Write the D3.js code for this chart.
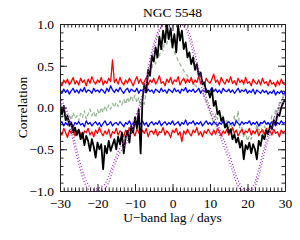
<!DOCTYPE html>
<html>
<head>
<meta charset="utf-8">
<script src="https://cdn.jsdelivr.net/npm/d3@7"></script>
<style>
  body { margin: 0; background: #fff; }
  svg text { font-family: "Liberation Serif", "Times New Roman", Times, "DejaVu Serif", serif; }
</style>
</head>
<body>
<div id="ccfPlot"></div>
<script>

// lag grid (days) for the sampled curves
var lags = d3.range(-30, 30.01, 0.5);
var lagsCoarse = d3.range(-30, 30.01, 1);

// upper / lower significance bands (red, blue)
var redUpper = [
  0.30, 0.26, 0.33, 0.29, 0.34, 0.27, 0.31, 0.36, 0.28, 0.32,
  0.27, 0.35, 0.30, 0.33, 0.26, 0.34, 0.29, 0.37, 0.31, 0.28,
  0.33, 0.30, 0.36, 0.27, 0.32, 0.29, 0.35, 0.31, 0.57, 0.30,
  0.34, 0.28, 0.36, 0.30, 0.27, 0.33, 0.29, 0.35, 0.31, 0.26,
  0.32, 0.37, 0.29, 0.34, 0.28, 0.31, 0.36, 0.27, 0.33, 0.30,
  0.35, 0.28, 0.32, 0.38, 0.29, 0.31, 0.26, 0.34, 0.30, 0.36,
  0.28, 0.33, 0.31, 0.37, 0.27, 0.32, 0.35, 0.29, 0.34, 0.30,
  0.36, 0.28, 0.33, 0.30, 0.38, 0.29, 0.32, 0.27, 0.35, 0.31,
  0.29, 0.34, 0.40, 0.30, 0.33, 0.27, 0.36, 0.31, 0.28, 0.34,
  0.30, 0.37, 0.29, 0.32, 0.27, 0.35, 0.30, 0.33, 0.28, 0.36,
  0.29, 0.31, 0.26, 0.34, 0.30, 0.28, 0.33, 0.27, 0.35, 0.29,
  0.31, 0.26, 0.33, 0.28, 0.30, 0.25, 0.32, 0.27, 0.34, 0.29,
  0.27
];
var blueUpper = [
  0.19, 0.17, 0.22, 0.18, 0.21, 0.16, 0.20, 0.23, 0.18, 0.21,
  0.17, 0.22, 0.19, 0.24, 0.18, 0.21, 0.20, 0.17, 0.23, 0.19,
  0.21, 0.18, 0.22, 0.20, 0.17, 0.23, 0.19, 0.26, 0.21, 0.18,
  0.22, 0.19, 0.24, 0.20, 0.17, 0.21, 0.23, 0.18, 0.22, 0.20,
  0.19, 0.23, 0.17, 0.21, 0.20, 0.24, 0.18, 0.22, 0.19, 0.21,
  0.17, 0.22, 0.20, 0.18, 0.23, 0.19, 0.21, 0.17, 0.22, 0.20,
  0.18, 0.23, 0.19, 0.21, 0.17, 0.22, 0.20, 0.24, 0.18, 0.21,
  0.19, 0.22, 0.18, 0.20, 0.23, 0.17, 0.21, 0.19, 0.22, 0.18,
  0.20, 0.24, 0.19, 0.22, 0.18, 0.21, 0.17, 0.23, 0.20, 0.19,
  0.22, 0.18, 0.21, 0.17, 0.20, 0.23, 0.18, 0.21, 0.19, 0.22,
  0.17, 0.20, 0.18, 0.22, 0.16, 0.21, 0.19, 0.17, 0.21, 0.18,
  0.20, 0.16, 0.19, 0.17, 0.21, 0.15, 0.19, 0.17, 0.20, 0.16,
  0.18
];
var blueLower = [
  -0.20, -0.17, -0.22, -0.18, -0.21, -0.16, -0.19, -0.23, -0.18, -0.20,
  -0.17, -0.21, -0.19, -0.23, -0.16, -0.20, -0.18, -0.22, -0.19, -0.17,
  -0.21, -0.18, -0.23, -0.19, -0.16, -0.21, -0.20, -0.17, -0.22, -0.19,
  -0.18, -0.21, -0.17, -0.20, -0.23, -0.18, -0.20, -0.16, -0.21, -0.19,
  -0.17, -0.22, -0.19, -0.20, -0.16, -0.21, -0.18, -0.23, -0.19, -0.17,
  -0.21, -0.18, -0.20, -0.16, -0.22, -0.19, -0.17, -0.21, -0.18, -0.20,
  -0.16, -0.21, -0.19, -0.17, -0.22, -0.18, -0.20, -0.15, -0.21, -0.18,
  -0.19, -0.16, -0.21, -0.18, -0.20, -0.17, -0.22, -0.19, -0.16, -0.20,
  -0.18, -0.21, -0.17, -0.19, -0.22, -0.18, -0.20, -0.16, -0.21, -0.19,
  -0.17, -0.20, -0.18, -0.22, -0.16, -0.19, -0.21, -0.17, -0.20, -0.18,
  -0.19, -0.16, -0.21, -0.18, -0.20, -0.17, -0.22, -0.18, -0.19, -0.16,
  -0.20, -0.18, -0.21, -0.17, -0.19, -0.22, -0.18, -0.20, -0.16, -0.19,
  -0.18
];
var redLower = [
  -0.28, -0.33, -0.25, -0.30, -0.36, -0.27, -0.31, -0.24, -0.34, -0.29,
  -0.26, -0.32, -0.37, -0.28, -0.30, -0.25, -0.33, -0.29, -0.35, -0.27,
  -0.31, -0.24, -0.30, -0.34, -0.28, -0.32, -0.26, -0.36, -0.29, -0.31,
  -0.25, -0.33, -0.28, -0.30, -0.35, -0.27, -0.32, -0.24, -0.31, -0.29,
  -0.34, -0.26, -0.30, -0.33, -0.27, -0.31, -0.25, -0.35, -0.29, -0.28,
  -0.32, -0.26, -0.34, -0.29, -0.30, -0.24, -0.33, -0.28, -0.31, -0.36,
  -0.27, -0.30, -0.25, -0.33, -0.29, -0.41, -0.28, -0.32, -0.26, -0.31,
  -0.34, -0.27, -0.30, -0.24, -0.33, -0.29, -0.35, -0.28, -0.31, -0.26,
  -0.30, -0.33, -0.27, -0.32, -0.25, -0.29, -0.34, -0.28, -0.31, -0.26,
  -0.33, -0.29, -0.24, -0.31, -0.27, -0.34, -0.30, -0.26, -0.32, -0.28,
  -0.30, -0.25, -0.33, -0.28, -0.31, -0.26, -0.34, -0.29, -0.27, -0.32,
  -0.25, -0.30, -0.28, -0.33, -0.26, -0.31, -0.29, -0.35, -0.27, -0.30,
  -0.28
];

// measured CCF (black)
var ccfMeasured = [
  0.05, -0.08, 0.02, -0.15, -0.10, -0.22, -0.18, -0.30, -0.24, -0.33,
  -0.27, -0.38, -0.30, -0.45, -0.34, -0.40, -0.52, -0.38, -0.47, -0.60,
  -0.42, -0.50, -0.44, -0.74, -0.46, -0.55, -0.40, -0.52, -0.45, -0.38,
  -0.50, -0.35, -0.44, -0.30, -0.55, -0.36, -0.28, -0.42, -0.22, -0.30,
  -0.12, -0.25, -0.02, -0.55, 0.10, 0.28, 0.18, 0.45, 0.38, 0.62,
  0.55, 0.72, 0.60, 0.85, 0.70, 0.92, 0.78, 1.00, 0.82, 0.95,
  0.72, 0.88, 0.66, 0.98, 0.80, 0.92, 0.70, 0.78, 0.60, 0.66,
  0.52, 0.60, 0.45, 0.52, 0.38, 0.42, 0.28, 0.30, 0.18, 0.20,
  0.12, 0.22, 0.02, 0.08, -0.08, -0.04, -0.16, -0.12, -0.24, -0.20,
  -0.30, -0.26, -0.38, -0.32, -0.42, -0.36, -0.48, -0.40, -0.62, -0.45,
  -0.50, -0.42, -0.55, -0.44, -0.50, -0.62, -0.40, -0.46, -0.33, -0.38,
  -0.28, -0.32, -0.22, -0.26, -0.15, -0.20, -0.08, -0.10, 0.00, 0.05,
  0.10
];

// green dashed curve
var ccfGreen = [
  -0.08, -0.14, -0.05, -0.12, -0.18, -0.09, -0.15, -0.06, -0.13, -0.10,
  -0.16, -0.07, -0.12, -0.04, -0.14, -0.08, -0.02, -0.10, -0.05, -0.12,
  -0.03, -0.08, 0.00, -0.06, 0.02, -0.04, 0.03, -0.02, 0.05, 0.00,
  0.06, 0.01, 0.08, 0.03, 0.10, 0.04, 0.12, 0.06, 0.14, 0.08,
  0.15, 0.06, 0.12, 0.02, 0.08, 0.04, 0.20, 0.35, 0.50, 0.46,
  0.58, 0.52, 0.66, 0.60, 0.74, 0.68, 0.82, 0.76, 0.90, 0.80,
  0.72, 0.66, 0.62, 0.56, 0.52, 0.48, 0.44, 0.40, 0.38, 0.34,
  0.32, 0.30, 0.27, 0.24, 0.22, 0.19, 0.18, 0.12, 0.08, 0.02,
  -0.04, -0.12, -0.20, -0.08, -0.14, -0.04, -0.16, -0.10, -0.22, -0.14,
  -0.24, -0.18, -0.28, -0.10, -0.20, -0.04, -0.30, -0.24, -0.36, -0.30,
  -0.40, -0.34, -0.38, -0.28, -0.32, -0.20, -0.30, -0.16, -0.36, -0.22,
  -0.28, -0.18, -0.22, -0.10, -0.14, -0.02, -0.08, 0.06, 0.02, 0.14,
  0.20
];

// purple dotted curves (1-day steps)
var acfPurpleA = [
  0.08, 0.00, -0.12, -0.30, -0.50, -0.68, -0.84, -0.95, -1.00, -1.00,
  -1.00, -1.00, -0.98, -0.90, -0.76, -0.64, -0.54, -0.47, -0.40, -0.30,
  -0.18, -0.06, 0.08, 0.30, 0.52, 0.70, 0.86, 0.96, 1.00, 1.00,
  1.00, 1.00, 1.00, 0.98, 0.90, 0.74, 0.55, 0.38, 0.20, 0.06,
  -0.06, -0.16, -0.27, -0.38, -0.50, -0.62, -0.76, -0.90, -0.98, -1.00,
  -1.00, -1.00, -0.96, -0.82, -0.64, -0.46, -0.32, -0.20, -0.08, 0.02,
  0.10
];
var acfPurpleB = [
  0.12, 0.04, -0.06, -0.22, -0.42, -0.60, -0.76, -0.88, -0.96, -0.98,
  -0.97, -0.95, -0.92, -0.82, -0.70, -0.58, -0.48, -0.40, -0.32, -0.22,
  -0.12, 0.00, 0.16, 0.36, 0.58, 0.76, 0.90, 0.98, 1.00, 1.00,
  1.00, 1.00, 1.00, 1.00, 0.95, 0.82, 0.64, 0.46, 0.28, 0.12,
  0.00, -0.10, -0.20, -0.31, -0.42, -0.54, -0.68, -0.82, -0.92, -0.97,
  -0.99, -0.97, -0.90, -0.74, -0.56, -0.40, -0.26, -0.14, -0.02, 0.08,
  0.16
];

// axis ticks
var xMajorTicks = [-30, -20, -10, 0, 10, 20, 30];
var yMajorTicks = [-1.0, -0.5, 0.0, 0.5, 1.0];

var fontStack = "'Liberation Serif', 'Times New Roman', Times, serif";

var svgWidth = 300;
var svgHeight = 240;
var chartMargin = { top: 24, right: 15, bottom: 49, left: 60 };
var chartWidth = svgWidth - chartMargin.left - chartMargin.right;
var chartHeight = svgHeight - chartMargin.top - chartMargin.bottom;

var svg = d3.select("#ccfPlot")
    .append("svg")
    .attr("width", svgWidth)
    .attr("height", svgHeight);

var chartGroup = svg.append("g")
    .attr("transform", `translate(${chartMargin.left}, ${chartMargin.top})`);

var xLinearScale = d3.scaleLinear().domain([-30, 30]).range([0, chartWidth]);
var yLinearScale = d3.scaleLinear().domain([-1, 1]).range([chartHeight, 0]);

// clip curves to the frame
chartGroup.append("clipPath")
    .attr("id", "plotClip")
    .append("rect")
    .attr("width", chartWidth)
    .attr("height", chartHeight);

var curves = chartGroup.append("g").attr("clip-path", "url(#plotClip)");

function drawCurve(xs, ys, color, width, dash) {
    var line = d3.line()
        .x((d, i) => xLinearScale(xs[i]))
        .y(d => yLinearScale(d));
    curves.append("path")
        .datum(ys)
        .attr("d", line)
        .attr("fill", "none")
        .attr("stroke", color)
        .attr("stroke-width", width)
        .attr("stroke-linejoin", "round")
        .attr("stroke-dasharray", dash);
}

drawCurve(lags, ccfGreen, "#94b994", 1.3, "4,2.5");
drawCurve(lags, redUpper, "#ff0000", 1.3, null);
drawCurve(lags, redLower, "#ff0000", 1.3, null);
drawCurve(lags, blueUpper, "#0000ff", 1.3, null);
drawCurve(lags, blueLower, "#0000ff", 1.3, null);
drawCurve(lags, ccfMeasured, "#000000", 1.8, null);
drawCurve(lagsCoarse, acfPurpleA, "#a030b8", 1.3, "1,2");
drawCurve(lagsCoarse, acfPurpleB, "#a030b8", 1.3, "1,2");

// axes: ticks point inward, minor ticks every 1 day / 0.1
var axisColor = "#222";
var xMinor = d3.range(-30, 30.01, 1);
var yMinor = d3.range(-1, 1.001, 0.1);

function addAxis(axis, transform, showLabels) {
    var g = chartGroup.append("g")
        .attr("transform", transform)
        .call(axis)
        .attr("font-family", fontStack);
    g.selectAll("line").attr("stroke", axisColor);
    g.select(".domain").attr("stroke", axisColor);
    if (!showLabels) g.selectAll("text").remove();
    return g;
}

// minor ticks
addAxis(d3.axisBottom(xLinearScale).tickValues(xMinor).tickSizeInner(-3.5).tickSizeOuter(0), `translate(0, ${chartHeight})`, false);
addAxis(d3.axisTop(xLinearScale).tickValues(xMinor).tickSizeInner(-3.5).tickSizeOuter(0), "translate(0, 0)", false);
addAxis(d3.axisLeft(yLinearScale).tickValues(yMinor).tickSizeInner(-3.5).tickSizeOuter(0), "translate(0, 0)", false);
addAxis(d3.axisRight(yLinearScale).tickValues(yMinor).tickSizeInner(-3.5).tickSizeOuter(0), `translate(${chartWidth}, 0)`, false);

// major ticks with labels
addAxis(d3.axisBottom(xLinearScale).tickValues(xMajorTicks).tickSizeInner(-7).tickSizeOuter(0).tickPadding(7).tickFormat(d => d3.format("d")(d).replace("-", "\u2212")), `translate(0, ${chartHeight})`, true);
addAxis(d3.axisTop(xLinearScale).tickValues(xMajorTicks).tickSizeInner(-7).tickSizeOuter(0), "translate(0, 0)", false);
addAxis(d3.axisLeft(yLinearScale).tickValues(yMajorTicks).tickSizeInner(-7).tickSizeOuter(0).tickPadding(6).tickFormat(d => d3.format(".1f")(d).replace("-", "\u2212")), "translate(0, 0)", true);
addAxis(d3.axisRight(yLinearScale).tickValues(yMajorTicks).tickSizeInner(-7).tickSizeOuter(0), `translate(${chartWidth}, 0)`, false);

chartGroup.selectAll(".tick text")
    .attr("font-family", fontStack)
    .attr("font-size", "13.5px")
    .attr("fill", "#000");

// title and axis labels
chartGroup.append("text")
    .attr("x", chartWidth / 2)
    .attr("y", -7)
    .attr("text-anchor", "middle")
    .attr("font-family", fontStack)
    .attr("font-size", "13.5px")
    .text("NGC 5548");

chartGroup.append("text")
    .attr("transform", `translate(${chartWidth / 2}, ${chartHeight + 31})`)
    .attr("text-anchor", "middle")
    .attr("font-family", fontStack)
    .attr("font-size", "13.5px")
    .text("U\u2212band lag / days");

chartGroup.append("text")
    .attr("transform", `translate(${-33}, ${chartHeight / 2}) rotate(-90)`)
    .attr("text-anchor", "middle")
    .attr("font-family", fontStack)
    .attr("font-size", "13.5px")
    .text("Correlation");

</script>
</body>
</html>
